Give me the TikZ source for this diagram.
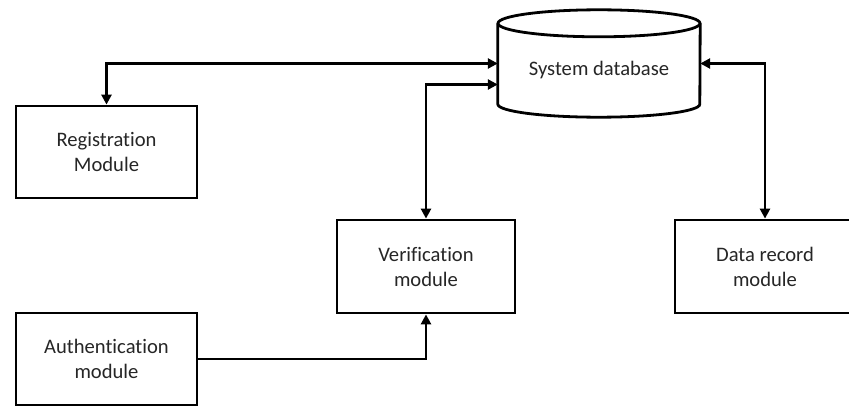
\documentclass[tikz,border=0pt]{standalone}
\usepackage{fontspec}
\setmainfont{Carlito}[Ligatures=NoCommon]
\usetikzlibrary{arrows.meta,calc}

\tikzset{
  modbox/.style={draw, line width=2.8pt, minimum width=181pt, minimum height=92pt,
    align=center, inner sep=0pt, font=\fontsize{20.6}{25}\selectfont, text=black!85},
  labeltext/.style={align=center, inner sep=0pt, font=\fontsize{20.6}{25}\selectfont, text=black!85},
  link/.style={line width=2.8pt, {Triangle[length=10pt,width=10pt]}-{Triangle[length=10pt,width=10pt]}},
  onelink/.style={line width=2.8pt, -{Triangle[length=10pt,width=10pt]}},
  dbline/.style={line width=2.8pt},
}

\begin{document}
\begin{tikzpicture}[x=1pt,y=-1pt]
  \useasboundingbox (0,0) rectangle (849,406);
  \clip (0,0) rectangle (849,406);
  \fill[white] (0,0) rectangle (849,406);

  % database cylinder
  \node[minimum width=202pt, minimum height=107pt, inner sep=0pt] (db) at (599,63.5) {};
  \node[labeltext] (dbtext) at ([yshift=-7pt]db.center) {System database};
  \draw[dbline] ([yshift=-13.5pt]db.north west) -- ([yshift=13pt]db.south west)
    arc[start angle=180, end angle=360, x radius=101pt, y radius=13pt]
    -- ([yshift=-13.5pt]db.north east);
  \draw[dbline] ([yshift=-13.5pt]db.north) ellipse[x radius=101pt, y radius=13.5pt];

  % modules
  \node[modbox] (reg)  at (106.5,152) {Registration\\Module};
  \node[modbox, minimum width=178pt, minimum height=93pt] (ver) at (426,266.5) {Verification\\module};
  \node[modbox, minimum width=230pt, minimum height=93pt] (dat) at (790,266.5) {};
  \node[labeltext] (datlbl) at (765,266.5) {Data record\\module};
  \node[modbox] (auth) at (106.5,359) {Authentication\\module};

  % connectors
  \draw[link] (reg.north) |- (db.west);
  \draw[link] (ver.north) |- ([yshift=-21pt]db.west);
  \draw[link] (datlbl |- dat.north) |- (db.east);
  \draw[onelink] (auth.east) -| (ver.south);
\end{tikzpicture}
\end{document}
